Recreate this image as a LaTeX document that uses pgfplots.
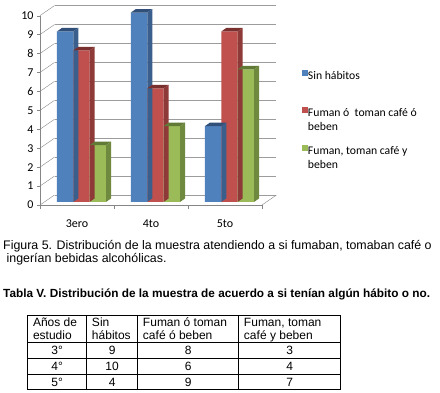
\documentclass[border=0pt]{standalone}
\usepackage{fontspec}
\setmainfont{Liberation Sans}
\newfontfamily\calibri{Carlito}
\usepackage{array}
\usepackage{pgfplots}
\pgfplotsset{compat=1.18}

\definecolor{cblue}{HTML}{4F81BD}
\definecolor{cred}{HTML}{C0504D}
\definecolor{cgreen}{HTML}{9BBB59}
\definecolor{cblueS}{HTML}{3A5F8C}
\definecolor{cblueT}{HTML}{30507A}
\definecolor{credS}{HTML}{8E3A38}
\definecolor{credT}{HTML}{7A302E}
\definecolor{cgreenS}{HTML}{6F8A3E}
\definecolor{cgreenT}{HTML}{617A35}
\definecolor{gridc}{HTML}{9C9C9C}
\definecolor{axisc}{HTML}{868686}

% 3D top and side faces of a bar; #2 = bar centre offset from category (pt)
\newcommand\defcube[4]{%
\pgfdeclareplotmark{#1}{%
 \pgfpathmoveto{\pgfpoint{#2-8.2pt}{3.1pt}}%
 \pgfpathlineto{\pgfpoint{#2+8.2pt}{3.1pt}}%
 \pgfpathlineto{\pgfpoint{#2+13.2pt}{6.6pt}}%
 \pgfpathlineto{\pgfpoint{#2-3.2pt}{6.6pt}}%
 \pgfpathclose
 \pgfsetfillcolor{#4}\pgfusepath{fill}%
 \pgfpathmoveto{\pgfpoint{#2+8.2pt}{3.1pt}}%
 \pgfpathlineto{\pgfpoint{#2+13.2pt}{6.6pt}}%
 \pgfpathlineto{\pgfpoint{#2+13.2pt}{6.6pt-\ry*18.94pt}}%
 \pgfpathlineto{\pgfpoint{#2+8.2pt}{3.1pt-\ry*18.94pt}}%
 \pgfpathclose
 \pgfsetfillcolor{#3}\pgfusepath{fill}%
}}
\defcube{cubeblue}{-11.9pt}{cblueS}{cblueT}
\defcube{cubered}{4.5pt}{credS}{credT}
\defcube{cubegreen}{20.9pt}{cgreenS}{cgreenT}

\pgfplotstableread{
x sin fuman todo
0 9  8 3
1 10 6 4
2 4  9 7
}\datatable

\newcommand\hs{\rule{0pt}{10.5pt}}
\newcommand\hd{\rule[-2.5pt]{0pt}{0pt}}
\newcommand\ds{\rule[-3pt]{0pt}{15pt}}
\newcommand\cc[1]{\hfill\ds#1\hfill\null}

\begin{document}
\begin{tikzpicture}
\path[use as bounding box] (0,0) rectangle (440pt,-392pt);
\begin{axis}[
  at={(40pt,-205pt)}, anchor=south west,
  scale only axis, width=222pt, height=189.4pt,
  xmin=-0.5, xmax=2.5, ymin=0, ymax=10,
  clip=false,
  axis lines*=left,
  axis line style={draw=axisc},
  tick align=outside,
  ytick={0,1,...,10},
  xtick={0,1,2},
  xticklabels={3ero,4to,5to},
  minor xtick={-0.5,0.5,1.5,2.5},
  major tick length=3pt,
  minor tick length=4pt,
  major x tick style={draw=none},
  tick style={draw=axisc},
  ticklabel style={font=\calibri\fontsize{12}{13}\selectfont, text=black},
  /pgf/number format/assume math mode=true,
  xticklabel style={yshift=-8pt},
  ymajorgrids,
  major grid style={draw=gridc, xshift=14.5pt, yshift=10pt},
  legend cell align=left,
  legend style={at={(1,1)}, xshift=37pt, yshift=-52pt, anchor=north west, draw=none, fill=none,
    font=\calibri\fontsize{11.7}{14}\selectfont, row sep=6.5pt,
    nodes={inner sep=0pt, text depth=}, cells={anchor=base west}},
  legend image code/.code={\fill[#1,draw=none] (-11.5pt,0.4pt) rectangle (-5.7pt,6.2pt);},
]
\pgfplotsinvokeforeach{0,1,...,10}{\draw[axisc] (axis cs:-0.5,#1) -- ++(14.5pt,10pt);}
\draw[axisc] (axis cs:2.5,0) -- ++(14.5pt,10pt);

\addplot[ybar, bar width=16.4pt, bar shift=-11.9pt, yshift=3.1pt, fill=cblue, draw=none] table[x=x, y=sin]{\datatable};
\addlegendentry{\parbox[t][30pt][t]{130pt}{Sin hábitos}}
\addplot[forget plot, only marks, mark=cubeblue, visualization depends on={rawy \as \ry}] table[x=x, y=sin]{\datatable};

\addplot[ybar, bar width=16.4pt, bar shift=4.5pt, yshift=3.1pt, fill=cred, draw=none] table[x=x, y=fuman]{\datatable};
\addlegendentry{\parbox[t][30pt][t]{130pt}{Fuman ó\ \ toman café ó\\beben}}
\addplot[forget plot, only marks, mark=cubered, visualization depends on={rawy \as \ry}] table[x=x, y=fuman]{\datatable};

\addplot[ybar, bar width=16.4pt, bar shift=20.9pt, yshift=3.1pt, fill=cgreen, draw=none] table[x=x, y=todo]{\datatable};
\addlegendentry{\parbox[t][30pt][t]{130pt}{Fuman, toman café y\\beben}}
\addplot[forget plot, only marks, mark=cubegreen, visualization depends on={rawy \as \ry}] table[x=x, y=todo]{\datatable};
\end{axis}

\node[anchor=base west, inner sep=0pt, font=\fontsize{12.4}{13}\selectfont] at (3pt,-249pt) {Figura 5. Distribución de la muestra atendiendo a si fumaban, tomaban café o};
\node[anchor=base west, inner sep=0pt, font=\fontsize{12.4}{13}\selectfont] at (3pt,-262pt) {\ ingerían bebidas alcohólicas.};
\node[anchor=base west, inner sep=0pt, font=\bfseries\fontsize{11.8}{13}\selectfont] at (3pt,-297pt) {Tabla V. Distribución de la muestra de acuerdo a si tenían algún hábito o no.};

\node[anchor=north west, inner sep=0pt, font=\fontsize{12}{13}\selectfont] at (27pt,-315pt) {%
\setlength{\tabcolsep}{5pt}\setlength{\arrayrulewidth}{0.8pt}\renewcommand{\arraystretch}{0}%
\begin{tabular}{|>{\raggedright\arraybackslash}p{48.2pt}|>{\raggedright\arraybackslash}p{40.2pt}|>{\raggedright\arraybackslash}p{90.2pt}|>{\raggedright\arraybackslash}p{91.2pt}|}
\hline
\hs Años de\newline estudio\hd & \hs Sin\newline hábitos\hd & \hs Fuman ó toman\newline café ó beben\hd & \hs Fuman, toman\newline café y beben\hd \\
\hline
\cc{3°} & \cc{9} & \cc{8} & \cc{3} \\
\hline
\cc{4°} & \cc{10} & \cc{6} & \cc{4} \\
\hline
\cc{5°} & \cc{4} & \cc{9} & \cc{7} \\
\hline
\end{tabular}};
\end{tikzpicture}
\end{document}
